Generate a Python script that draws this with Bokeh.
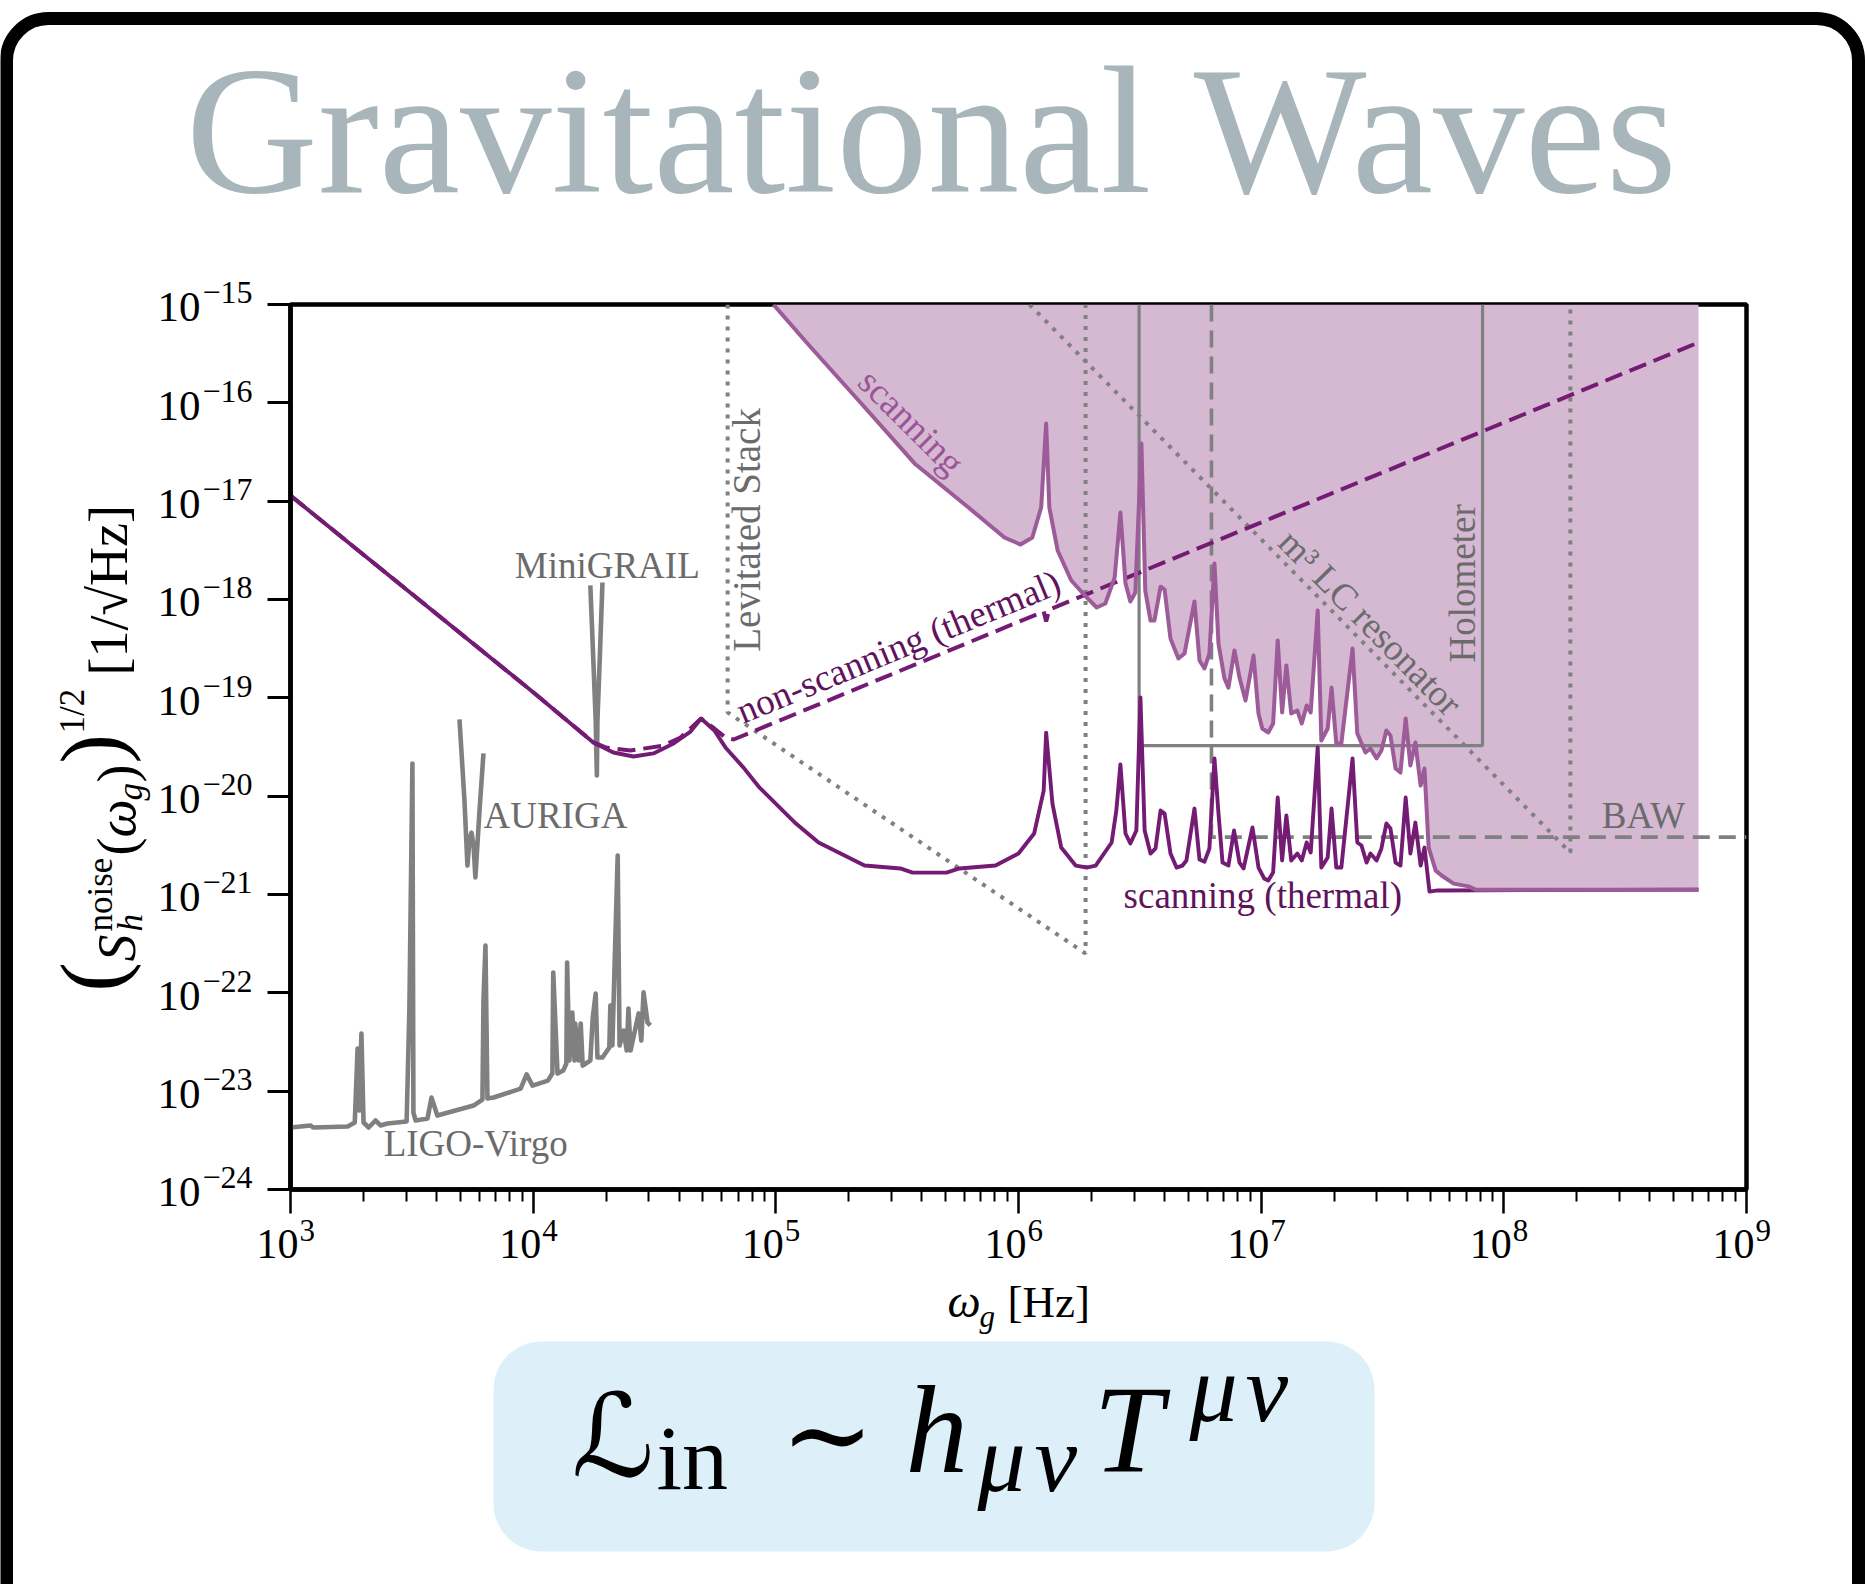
import math
from bokeh.plotting import figure
from bokeh.models import (Range1d, FixedTicker, CustomJSTickFormatter, Label, BoxAnnotation,
                          GridBox)
from bokeh.embed import file_html
from bokeh.resources import INLINE

# ---------------- data: frequency [Hz] and strain noise [1/sqrt(Hz)] ----------------
# scanning (thermal) sensitivity
scan_f = [1.0e3, 1.0e4, 1.77e4, 2.14e4, 2.59e4, 3.13e4, 3.79e4, 4.45e4, 4.92e4, 5.58e4,
          6.2e4, 7.36e4, 8.57e4, 1.21e5, 1.50e5, 2.32e5, 3.26e5, 3.66e5, 5.05e5, 5.71e5,
          8.04e5, 1.0e6, 1.16e6, 1.27e6, 1.30e6, 1.38e6, 1.50e6, 1.72e6, 1.91e6, 2.08e6,
          2.42e6, 2.53e6, 2.63e6, 2.76e6, 2.89e6, 3.06e6, 3.18e6, 3.31e6, 3.50e6, 3.67e6,
          3.85e6, 4.0e6, 4.23e6, 4.48e6, 4.74e6, 4.92e6, 5.31e6, 5.57e6, 5.84e6, 6.12e6,
          6.42e6, 6.67e6, 6.93e6, 7.33e6, 7.73e6, 8.14e6, 8.46e6, 9.21e6, 9.75e6, 1.03e7,
          1.07e7, 1.12e7, 1.17e7, 1.22e7, 1.27e7, 1.33e7, 1.41e7, 1.47e7, 1.54e7, 1.60e7,
          1.71e7, 1.77e7, 1.88e7, 1.95e7, 2.04e7, 2.14e7, 2.38e7, 2.49e7, 2.59e7, 2.72e7,
          2.82e7, 2.99e7, 3.13e7, 3.28e7, 3.41e7, 3.58e7, 3.75e7, 3.94e7, 4.12e7, 4.32e7,
          4.54e7, 4.71e7, 4.94e7, 5.33e7, 6.34e8]
scan_S = [1.14e-17, 1.14e-19, 3.52e-20, 2.78e-20, 2.53e-20, 2.72e-20, 3.43e-20, 4.54e-20, 6.16e-20, 4.66e-20,
          3.13e-20, 1.95e-20, 1.22e-20, 5.27e-21, 3.38e-21, 1.97e-21, 1.84e-21, 1.67e-21, 1.67e-21, 1.84e-21,
          1.97e-21, 2.61e-21, 4.17e-21, 1.14e-20, 4.43e-20, 8.41e-21, 3.0e-21, 1.97e-21, 1.88e-21, 1.97e-21,
          3.38e-21, 7.14e-21, 2.1e-20, 4.17e-21, 3.3e-21, 4.48e-21, 1.01e-19, 4.48e-21, 2.61e-21, 2.94e-21,
          7.14e-21, 6.67e-21, 2.61e-21, 1.88e-21, 1.97e-21, 2.22e-21, 7.48e-21, 2.27e-21, 2.16e-21, 2.94e-21,
          2.42e-20, 6.67e-21, 2.11e-21, 1.97e-21, 4.48e-21, 2.11e-21, 1.84e-21, 4.8e-21, 1.88e-21, 1.45e-21,
          1.39e-21, 1.67e-21, 9.68e-21, 2.22e-21, 6.36e-21, 2.22e-21, 2.61e-21, 2.22e-21, 3.38e-21, 2.67e-21,
          3.13e-20, 1.88e-21, 2.38e-21, 7.48e-21, 1.88e-21, 1.88e-21, 2.42e-20, 3.38e-21, 3.15e-21, 2.11e-21,
          2.61e-21, 2.22e-21, 2.94e-21, 5.27e-21, 4.69e-21, 2.11e-21, 1.97e-21, 9.68e-21, 2.61e-21, 5.39e-21,
          1.97e-21, 3.0e-21, 1.07e-21, 1.10e-21, 1.12e-21]

# scanning sensitivity (lower edge of the shaded region)
pink_f = [9.77e4, 1.35e5, 2.25e5, 3.73e5, 6.22e5, 8.75e5, 1.02e6, 1.14e6, 1.24e6, 1.30e6,
          1.34e6, 1.45e6, 1.65e6, 1.91e6, 2.10e6, 2.28e6, 2.49e6, 2.63e6, 2.76e6, 2.89e6,
          3.03e6, 3.21e6, 3.33e6, 3.50e6, 3.63e6, 3.85e6, 4.0e6, 4.23e6, 4.56e6, 4.83e6,
          5.31e6, 5.57e6, 5.84e6, 6.12e6, 6.42e6, 6.67e6, 7.06e6, 7.33e6, 7.76e6, 8.14e6,
          8.62e6, 9.3e6, 9.75e6, 1.01e7, 1.07e7, 1.12e7, 1.17e7, 1.22e7, 1.27e7, 1.33e7,
          1.41e7, 1.47e7, 1.54e7, 1.60e7, 1.71e7, 1.77e7, 1.88e7, 1.95e7, 2.04e7, 2.14e7,
          2.38e7, 2.49e7, 2.69e7, 2.82e7, 2.99e7, 3.13e7, 3.28e7, 3.41e7, 3.58e7, 3.75e7,
          3.94e7, 4.12e7, 4.32e7, 4.54e7, 4.71e7, 4.90e7, 5.24e7, 5.54e7, 6.21e7, 7.15e7,
          7.64e7, 6.34e8]
pink_S = [1.0e-15, 4.01e-16, 9.84e-17, 2.42e-17, 8.62e-18, 4.27e-18, 3.62e-18, 4.27e-18, 8.62e-18, 6.17e-17,
          8.62e-18, 3.15e-18, 1.56e-18, 1.05e-18, 8.29e-19, 9.1e-19, 1.67e-18, 7.67e-18, 1.46e-18, 9.55e-19,
          1.18e-18, 3.85e-17, 1.23e-18, 6.1e-19, 6.1e-19, 1.35e-18, 1.26e-18, 4.0e-19, 2.51e-19, 2.82e-19,
          9.55e-19, 2.4e-19, 1.99e-19, 2.82e-19, 2.32e-18, 3.56e-19, 1.57e-19, 1.27e-19, 3.03e-19, 1.61e-19,
          9.4e-20, 2.69e-19, 6.93e-20, 4.88e-20, 4.44e-20, 5.48e-20, 3.83e-19, 7.1e-20, 2.13e-19, 6.93e-20,
          7.43e-20, 5.48e-20, 8.36e-20, 7.1e-20, 7.73e-19, 3.68e-20, 4.88e-20, 1.27e-19, 3.43e-20, 3.43e-20,
          3.18e-19, 4.34e-20, 2.78e-20, 3.05e-20, 2.42e-20, 2.91e-20, 4.66e-20, 4.14e-20, 1.91e-20, 1.74e-20,
          6.17e-20, 2.05e-20, 3.52e-20, 1.28e-20, 1.91e-20, 3.0e-21, 1.75e-21, 1.56e-21, 1.29e-21, 1.21e-21,
          1.12e-21, 1.12e-21]

# non-scanning (thermal)
ns_f = [1.0e3, 1.0e4, 1.77e4, 1.99e4, 2.52e4, 3.44e4, 4.05e4, 4.92e4, 5.58e4, 6.2e4,
        6.7e4, 1.27e6, 1.30e6, 1.34e6, 6.19e8]
ns_S = [1.14e-17, 1.14e-19, 3.52e-20, 3.13e-20, 2.91e-20, 3.27e-20, 3.95e-20, 6.16e-20, 4.88e-20, 3.95e-20,
        3.77e-20, 7.55e-19, 5.97e-19, 7.9e-19, 4.01e-16]

# LIGO-Virgo
ligo_f = [1.0e3, 1.21e3, 1.24e3, 1.72e3, 1.84e3, 1.89e3, 1.92e3, 1.96e3, 2.0e3, 2.10e3,
          2.24e3, 2.35e3, 2.51e3, 3.01e3, 3.09e3, 3.18e3, 3.21e3, 3.28e3, 3.67e3, 3.81e3,
          4.03e3, 5.68e3, 6.18e3, 6.24e3, 6.36e3, 6.48e3, 6.87e3, 8.88e3, 9.4e3, 9.94e3,
          1.15e4, 1.20e4, 1.21e4, 1.26e4, 1.33e4, 1.37e4, 1.38e4, 1.41e4, 1.45e4, 1.48e4,
          1.49e4, 1.54e4, 1.57e4, 1.60e4, 1.72e4, 1.76e4, 1.81e4, 1.84e4, 1.93e4, 2.06e4,
          2.08e4, 2.12e4, 2.23e4, 2.27e4, 2.36e4, 2.43e4, 2.47e4, 2.52e4, 2.72e4, 2.79e4,
          2.85e4, 2.96e4, 3.04e4]
ligo_S = [4.27e-24, 4.48e-24, 4.27e-24, 4.37e-24, 4.8e-24, 2.71e-23, 6.35e-24, 3.86e-23, 4.8e-24, 4.27e-24,
          5.03e-24, 4.48e-24, 4.69e-24, 4.91e-24, 6.92e-23, 2.15e-20, 6.06e-24, 5.03e-24, 5.27e-24, 8.61e-24,
          5.65e-24, 7.14e-24, 8.22e-24, 8.36e-23, 3.03e-22, 8.41e-24, 8.61e-24, 1.06e-23, 1.48e-23, 1.14e-23,
          1.28e-23, 1.51e-23, 1.61e-22, 1.51e-23, 1.62e-23, 1.91e-23, 2.03e-22, 2.05e-23, 6.31e-23, 2.05e-23,
          4.88e-23, 2.05e-23, 4.88e-23, 1.82e-23, 2.05e-23, 5.61e-23, 9.84e-23, 2.2e-23, 2.2e-23, 2.78e-23,
          7.43e-23, 2.91e-23, 2.49e-21, 2.91e-23, 4.14e-23, 2.59e-23, 6.92e-23, 2.59e-23, 6.17e-23, 3.27e-23,
          1.01e-22, 4.99e-23, 4.66e-23]

# AURIGA
aur_f = [4.97e3, 5.21e3, 5.36e3, 5.47e3, 5.57e3, 5.68e3, 5.78e3, 6.01e3, 6.24e3]
aur_S = [6.03e-20, 9.04e-21, 1.97e-21, 3.71e-21, 4.26e-21, 3.15e-21, 1.49e-21, 7.14e-21, 2.72e-20]

# MiniGRAIL
mg_f = [1.72e4, 1.77e4, 1.81e4, 1.83e4, 1.84e4, 1.88e4, 1.93e4]
mg_S = [1.39e-18, 2.4e-19, 5.89e-20, 1.62e-20, 5.89e-20, 2.4e-19, 1.49e-18]

# projected / reference experiments
lev_f = [6.33e4, 6.33e4, 1.89e6, 1.89e6]
lev_S = [1e-15, 7.1e-20, 2.51e-22, 1e-15]
lc_f = [1.11e6, 1.88e8, 1.88e8]
lc_S = [1e-15, 2.67e-21, 1e-15]
holo_f = [3.14e6, 3.14e6, 8.17e7, 8.17e7]
holo_S = [1e-15, 3.27e-20, 3.27e-20, 1e-15]
baw_f = [6.24e6, 6.24e6, 1e9]
baw_S = [1e-15, 3.83e-21, 3.83e-21]

x_decades = [3, 4, 5, 6, 7, 8, 9]
y_decades = [-15, -16, -17, -18, -19, -20, -21, -22, -23, -24]

# ---------------- page layout ----------------
W, H = 1865, 1584
FL, FR, FT, FB = 290, 1746, 304, 1189          # plotting frame edges in page pixels
XMIN, XMAX, YMIN, YMAX = 1e3, 1e9, 1e-24, 1e-15


def X(px):
    """page x pixel -> frequency on the log axis"""
    return 10 ** (math.log10(XMIN) + (px - FL) / (FR - FL) * math.log10(XMAX / XMIN))


def Y(py):
    """page y pixel -> strain on the log axis"""
    return 10 ** (math.log10(YMAX) - (py - FT) / (FB - FT) * math.log10(YMAX / YMIN))


SERIF = "Liberation Serif"
PURPLE = "#741b74"
PINK = "#9d5b99"
FILL = "#d5b9d3"
GREY = "#808080"
TGREY = "#6b6b6b"
TPURPLE = "#5f135c"
BASE_SHIFT = 0.33   # alphabetic anchors are rendered this many em too low; lift them back

# ---------------- main chart ----------------
p = figure(width=W, height=H, x_axis_type="log", y_axis_type="log",
           x_range=Range1d(XMIN, XMAX), y_range=Range1d(YMIN, YMAX),
           output_backend="svg", toolbar_location=None,
           min_border_left=FL, min_border_right=W - FR,
           min_border_top=FT, min_border_bottom=H - FB)
p.title.visible = False
p.xgrid.visible = False
p.ygrid.visible = False
p.outline_line_color = "black"
p.outline_line_width = 4.5
p.outline_line_alpha = 1.0
p.background_fill_color = "white"
p.border_fill_color = "white"

blank = CustomJSTickFormatter(code="return ''")
p.xaxis.ticker = FixedTicker(ticks=[10.0 ** k for k in x_decades],
                             minor_ticks=[m * 10.0 ** k for k in x_decades[:-1] for m in range(2, 10)])
p.yaxis.ticker = FixedTicker(ticks=[10.0 ** k for k in y_decades], minor_ticks=[])
for ax in (p.xaxis, p.yaxis):
    ax.formatter = blank
    ax.axis_line_width = 4.5
    ax.axis_line_color = "black"
    ax.major_tick_in = 0
    ax.minor_tick_in = 0
    ax.major_tick_line_color = "black"
    ax.minor_tick_line_color = "black"
p.xaxis.major_tick_out = 24
p.xaxis.major_tick_line_width = 2.5
p.xaxis.minor_tick_out = 12
p.xaxis.minor_tick_line_width = 2
p.yaxis.major_tick_out = 23
p.yaxis.major_tick_line_width = 3
p.yaxis.minor_tick_line_color = None

p.varea(x=pink_f, y1=pink_S, y2=[YMAX] * len(pink_f), fill_color=FILL, fill_alpha=1.0)
p.line(lev_f, lev_S, line_color=GREY, line_width=4, line_dash="4 7")
p.line(lc_f, lc_S, line_color=GREY, line_width=4, line_dash="4 7")
p.line(holo_f, holo_S, line_color=GREY, line_width=3.2)
p.line(baw_f, baw_S, line_color=GREY, line_width=3.6, line_dash="17 9")
p.line(ligo_f, ligo_S, line_color=GREY, line_width=4.6, line_join="round")
p.line(aur_f, aur_S, line_color=GREY, line_width=4.6, line_join="round")
p.line(mg_f, mg_S, line_color=GREY, line_width=4.6, line_join="round")
p.line(ns_f, ns_S, line_color=PURPLE, line_width=4, line_dash="18 8")
p.line(scan_f, scan_S, line_color=PURPLE, line_width=3.9, line_join="round")
p.line(pink_f, pink_S, line_color=PINK, line_width=4, line_join="round")


def lab(fig, x, y, text, size, color="black", align="left", baseline="alphabetic",
        angle=0.0, font=SERIF, style="normal", xo=0.0, yo=0.0):
    if baseline == "alphabetic":
        lift = BASE_SHIFT * size
        xo += -math.sin(angle) * lift
        yo += math.cos(angle) * lift
    fig.add_layout(Label(x=x, y=y, text=text, text_font_size=f"{size}px", text_color=color,
                         text_align=align, text_baseline=baseline, angle=angle,
                         text_font=font, text_font_style=style, x_offset=xo, y_offset=yo))


LS = 37
lab(p, 2.02e4, 1.67e-18, "MiniGRAIL", LS, TGREY, align="center")
lab(p, 6.24e3, 4.8e-21, "AURIGA", LS, TGREY)
lab(p, 2.42e3, 2.22e-24, "LIGO-Virgo", LS, TGREY)
lab(p, 3.76e8, 4.8e-21, "BAW", LS, TGREY, align="center")
lab(p, 7.6e4, 5.1e-18, "Levitated Stack", LS + 2, TGREY, align="center", baseline="middle",
    angle=math.pi / 2)
lab(p, 6.76e7, 1.46e-18, "Holometer", LS, TGREY, align="center", baseline="middle",
    angle=math.pi / 2)
lab(p, 2.82e7, 5.83e-19, "m³ LC resonator", LS, TGREY, align="center", baseline="middle",
    angle=math.radians(-45.5))
lab(p, 3.62e5, 6.38e-17, "scanning", LS, "#9b5597", align="center", baseline="middle",
    angle=math.radians(-45))
lab(p, 3.2e5, 3.33e-19, "non-scanning (thermal)", LS, TPURPLE, align="center", baseline="middle",
    angle=math.radians(22.4))
lab(p, 2.71e6, 7.38e-22, "scanning (thermal)", LS, TPURPLE)

# ---------------- overlay sheet: the whole page, same log scales ----------------
q = figure(width=W, height=H, x_axis_type="log", y_axis_type="log",
           x_range=Range1d(X(0), X(W)), y_range=Range1d(Y(H), Y(0)),
           output_backend="svg", toolbar_location=None,
           x_axis_location=None, y_axis_location=None,
           min_border_left=0, min_border_right=0, min_border_top=0, min_border_bottom=0)
q.title.visible = False
q.grid.visible = False
q.outline_line_color = None
q.background_fill_alpha = 0.0
q.border_fill_alpha = 0.0

# keep each sheet's own frame (no frame alignment across the stacked sheets)
for fig in (p, q):
    try:
        fig.frame_align = False
    except AttributeError:
        pass

# tick labels
for k in x_decades:
    lab(q, 10.0 ** k, Y(1257), "10", 42, align="right", xo=8)
    lab(q, 10.0 ** k, Y(1240), str(k), 31, align="left", xo=9)
for k in y_decades:
    lab(q, X(200), 10.0 ** k, "10", 43, align="right", yo=-17)
    lab(q, X(202), 10.0 ** k, "\u2212" + str(abs(k)), 32, align="left", yo=1)

# x title: omega_g [Hz]
xl = 947
lab(q, X(xl), Y(1316), "ω", 47, style="italic")
lab(q, X(xl + 32), Y(1326), "g", 31, style="italic")
lab(q, X(xl + 60), Y(1316), "[Hz]", 45)

# y title: (S_h^noise(omega_g))^(1/2) [1/sqrt(Hz)], read bottom to top
YB = 134
runs = [  # text, size, style, raise (px), advance (px)
    ("(", 88, "normal", 13, 30),
    ("S", 54, "italic", 0, 30),
    ("noise", 35, "normal", 22, 0),
    ("h", 35, "italic", -8, 76),
    ("(", 54, "normal", 0, 18),
    ("ω", 54, "italic", 0, 37),
    ("g", 35, "italic", -8, 18),
    (")", 54, "normal", 0, 19),
    (")", 88, "normal", 13, 30),
    ("1/2", 35, "normal", 50, 58),
    ("[1/√Hz]", 54, "normal", 8, 170),
]
total = sum(r[4] for r in runs)
cur = 748 + total / 2
for text, size, style, rise, adv in runs:
    lab(q, X(YB - rise), Y(cur), text, size, style=style, angle=math.pi / 2)
    cur -= adv

# page title
lab(q, X(932.5), Y(190), "Gravitational Waves", 183, "#a8b6bb", align="center")

# rounded frame around the page and the Lagrangian panel
q.add_layout(BoxAnnotation(left=X(6), right=X(1858), top=Y(18), bottom=Y(1700),
                           fill_color=None, fill_alpha=0, line_color="black", line_alpha=1.0,
                           line_width=13, border_radius=42))
q.add_layout(BoxAnnotation(left=X(493), right=X(1374), top=Y(1341), bottom=Y(1551),
                           fill_color="#ddf0fa", fill_alpha=1.0, line_color=None,
                           border_radius=48))

# L_in ~ h_{mu nu} T^{mu nu}
lab(q, X(571), Y(1473), "ℒ", 115, font="DejaVu Serif, DejaVu Sans")
lab(q, X(656), Y(1488), "in", 92)
lab(q, X(780), Y(1470), "∼", 112, font="DejaVu Serif, DejaVu Sans")
lab(q, X(905), Y(1471), "h", 125, style="italic")
lab(q, X(977), Y(1490), "μ", 96, style="italic")
lab(q, X(1034), Y(1490), "ν", 96, style="italic")
lab(q, X(1093), Y(1471), "T", 125, style="italic")
lab(q, X(1189), Y(1420), "μ", 96, style="italic")
lab(q, X(1245), Y(1420), "ν", 96, style="italic")

page = GridBox(children=[(p, 0, 0), (q, 0, 0)])

open("out.html", "w").write(file_html(page, INLINE))
